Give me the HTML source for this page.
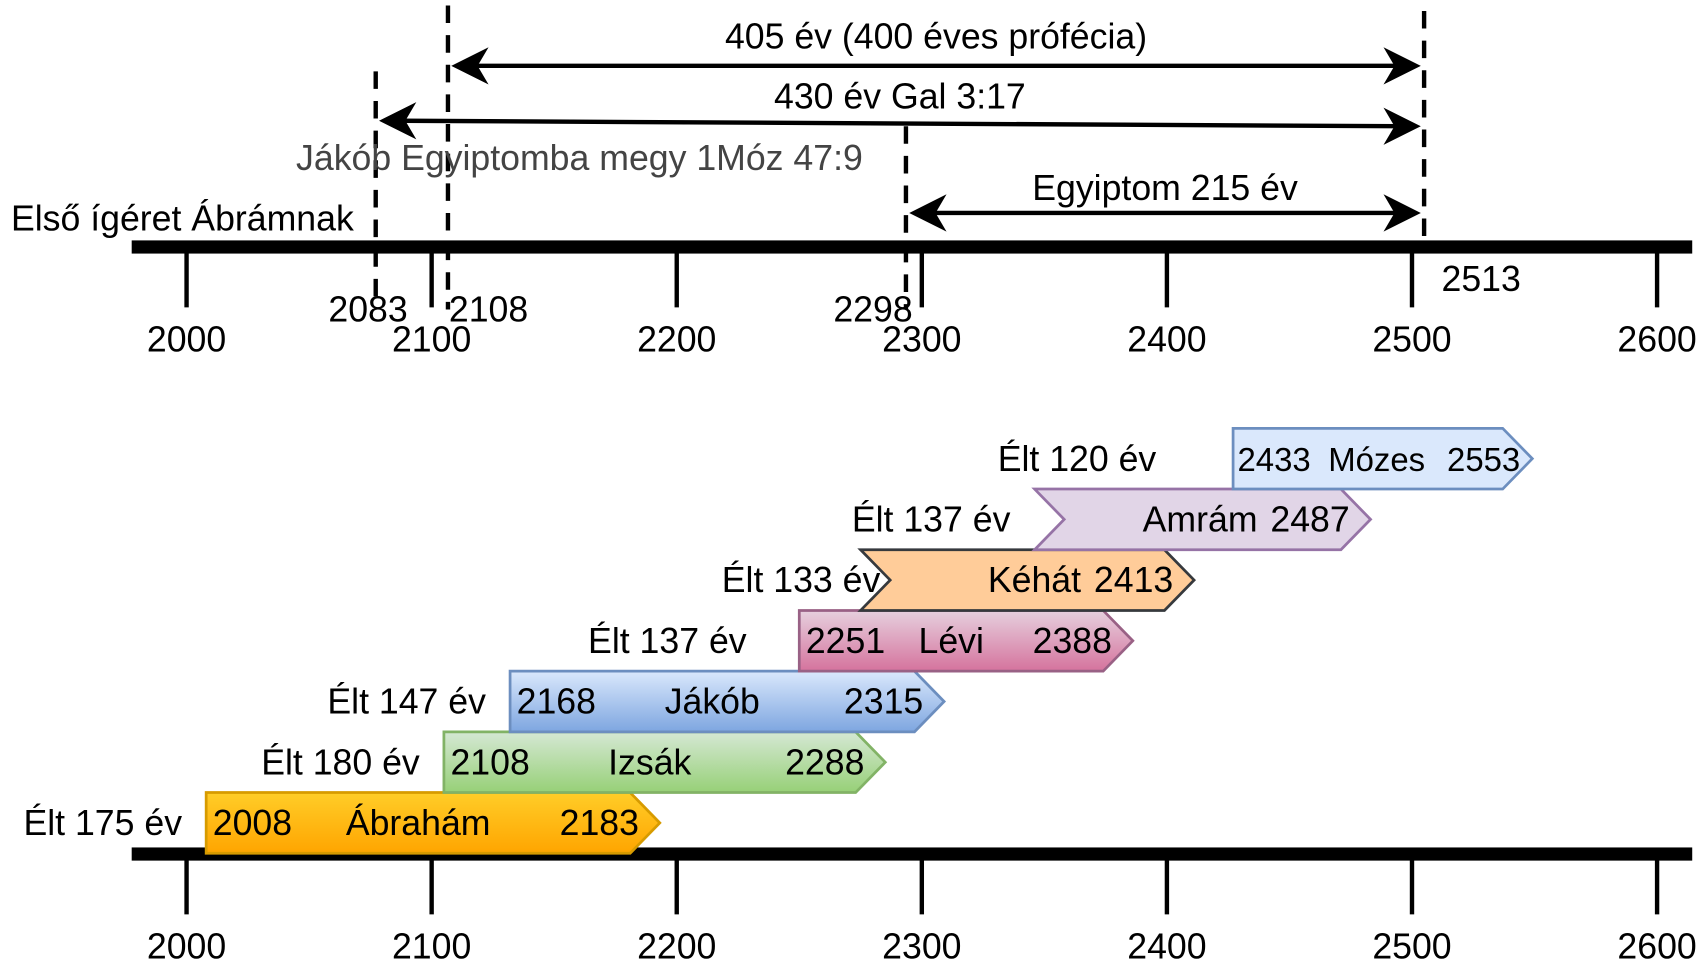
<!DOCTYPE html>
<html><head><meta charset="utf-8">
<style>
html,body{margin:0;padding:0;background:#fff;}
svg{display:block;font-family:"Liberation Sans",sans-serif;}
</style></head>
<body>
<svg id="chart" width="1701" height="966" viewBox="0 0 1550 880" preserveAspectRatio="none" xmlns="http://www.w3.org/2000/svg">
<defs>
<linearGradient id="g-abr" x1="0" y1="0" x2="0" y2="1"><stop offset="0" stop-color="#ffcd28"/><stop offset="1" stop-color="#ffa500"/></linearGradient>
<linearGradient id="g-izs" x1="0" y1="0" x2="0" y2="1"><stop offset="0" stop-color="#d5e8d4"/><stop offset="1" stop-color="#97d077"/></linearGradient>
<linearGradient id="g-jak" x1="0" y1="0" x2="0" y2="1"><stop offset="0" stop-color="#dae8fc"/><stop offset="1" stop-color="#7ea6e0"/></linearGradient>
<linearGradient id="g-lev" x1="0" y1="0" x2="0" y2="1"><stop offset="0" stop-color="#e6d0de"/><stop offset="1" stop-color="#d5739d"/></linearGradient>
</defs>
</svg>
<script>
// ---- data ----
const tickYears = [2000, 2100, 2200, 2300, 2400, 2500, 2600];
const markerYears = [2083, 2108, 2298, 2513];
const markerLabels = ["2083", "2108", "2298", "2513"];
const personNames = ["Ábrahám", "Izsák", "Jákób", "Lévi", "Kéhát", "Amrám", "Mózes"];
const lifeStart = [2008, 2105, 2132, 2250, 2275, 2346, 2427];
const lifeEnd = [2181, 2273, 2297, 2374, 2399, 2471, 2537];
const bornLabels = ["2008", "2108", "2168", "2251", "", "", "2433"];
const diedLabels = ["2183", "2288", "2315", "2388", "2413", "2487", "2553"];
const livedLabels = ["Élt 175 év", "Élt 180 év", "Élt 147 év", "Élt 137 év", "Élt 133 év", "Élt 137 év", "Élt 120 év"];

const svg = document.getElementById('chart');
const NS = 'http://www.w3.org/2000/svg';
const FS = 32.5;
const x = yr => 170 + (yr - 2000) * 2.2333;
function mk(tag, attrs, parent) {
  const e = document.createElementNS(NS, tag);
  for (const k in attrs) e.setAttribute(k, attrs[k]);
  (parent || svg).appendChild(e);
  return e;
}
function txt(s, ax, ay, anchor, size, fill) {
  const t = mk('text', {x: ax, y: ay, 'text-anchor': anchor, 'font-size': size || FS, fill: fill || '#000'});
  t.textContent = s;
  return t;
}

// ---- axes ----
function axis(yBar, yLabel, name) {
  const b = mk('rect', {x: 120, y: yBar - 6, width: 1422, height: 12, fill: '#000'});
  
  
  tickYears.forEach(yr => {
    const l = mk('line', {x1: x(yr), y1: yBar, x2: x(yr), y2: yBar + 55, stroke: '#000', 'stroke-width': 4});
    
    
    const t = txt(String(yr), x(yr), yLabel, 'middle');
    
    
  });
}
axis(225, 320, 'top-axis');
axis(778, 873, 'bottom-axis');

// ---- top annotations ----
const dashTop = [65, 5, 115, 10];
const dashBottom = [282, 282, 282, 222];
const dashShift = [-13, -3, -10, -18];
const mx = i => x(markerYears[i]) + dashShift[i];
markerYears.forEach((yr, i) => {
  const l = mk('line', {x1: mx(i), y1: dashTop[i], x2: mx(i), y2: dashBottom[i], stroke: '#000', 'stroke-width': 4, 'stroke-dasharray': '16 11'});
  
  
});
const mlX = [-20, 34, -40, 34];
const mlY = [293, 293, 293, 265];
markerYears.forEach((yr, i) => {
  const t = txt(markerLabels[i], x(yr) + mlX[i], mlY[i], 'middle');
  
  
});

function arrowHead(px, py, dir) {
  const d = `M${px},${py} L${px - dir * 34},${py - 17} L${px - dir * 24},${py} L${px - dir * 34},${py + 17} Z`;
  return mk('path', {d: d, fill: '#000'});
}
function spanArrow(y1a, y2a, i1, i2, label, ly, name) {
  const x1 = mx(i1) + 3, x2 = mx(i2) - 3;
  const l = mk('line', {x1: x1 + 20, y1: y1a, x2: x2 - 20, y2: y2a, stroke: '#000', 'stroke-width': 4});
  
  
  const h1 = arrowHead(x1, y1a, -1);
  
  
  const h2 = arrowHead(x2, y2a, 1);
  
  
  const t = txt(label, (x1 + x2) / 2, ly, 'middle');
  
  
}
spanArrow(60, 60, 1, 3, '405 év (400 éves prófécia)', 44, 'arrow-405');
spanArrow(110, 115, 0, 3, '430 év Gal 3:17', 99, 'arrow-430');
spanArrow(194, 194, 2, 3, 'Egyiptom 215 év', 182, 'arrow-egypt');

const jt = txt('Jákób Egyiptomba megy 1Móz 47:9', 528, 155, 'middle', FS, '#444');


const ft = txt('Első ígéret Ábrámnak', 10, 210, 'start');



// ---- life bars ----
const fills = ['url(#g-abr)', 'url(#g-izs)', 'url(#g-jak)', 'url(#g-lev)', '#ffcc99', '#e1d5e7', '#dae8fc'];
const strokes = ['#d79b00', '#82b366', '#6c8ebf', '#996185', '#36393d', '#9673a6', '#6c8ebf'];
const notched = [false, false, false, false, true, true, false];
const rowH = 55.3, baseTop = 722;
personNames.forEach((nm, i) => {
  const top = baseTop - i * rowH, bot = top + rowH, mid = top + rowH / 2;
  const xs = x(lifeStart[i]), xe = x(lifeEnd[i]);
  const tip = 27;
  const fs = i === 6 ? 30 : FS;
  const d = notched[i]
    ? `M${xs},${top} L${xe},${top} L${xe + tip},${mid} L${xe},${bot} L${xs},${bot} L${xs + tip},${mid} Z`
    : `M${xs},${top} L${xe},${top} L${xe + tip},${mid} L${xe},${bot} L${xs},${bot} Z`;
  const p = mk('path', {d: d, fill: fills[i], stroke: strokes[i], 'stroke-width': 2.5});
  
  
  const ty = mid + 11;
  if (bornLabels[i]) {
    const b = txt(bornLabels[i], xs + (i === 6 ? 4 : 6), ty, 'start', fs);
    
    
  }
  const dl = txt(diedLabels[i], xe + (i === 6 ? 16 : 8), ty, 'end', fs);
  
  
  let nx, anchor;
  if (notched[i]) { nx = xe - 76; anchor = 'end'; }
  else if (i === 6) { nx = (xs + xe) / 2 + 8; anchor = 'middle'; }
  else { nx = (xs + xe) / 2; anchor = 'middle'; }
  const n = txt(nm, nx, ty, anchor, fs);
  
  
  const lv = txt(livedLabels[i], xs - (i === 6 ? 70 : (i === 4 ? -18 : (i === 3 ? 48 : 22))), ty, 'end');
  
  
});
</script>
</body></html>
